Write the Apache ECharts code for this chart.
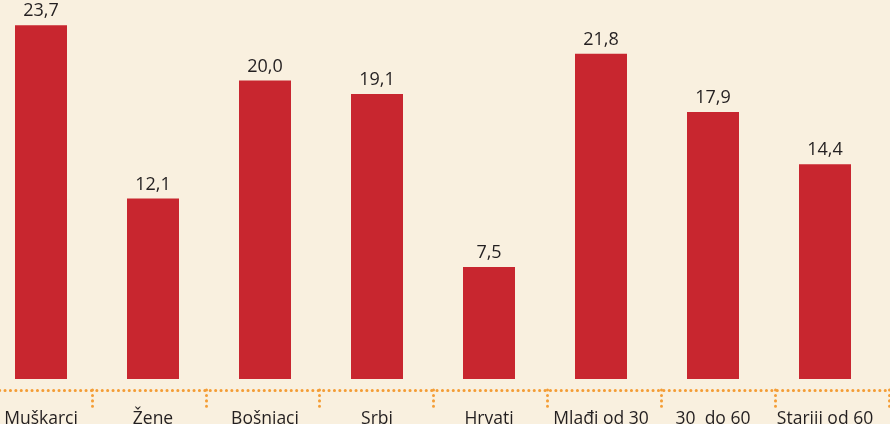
<!DOCTYPE html>
<html>
<head>
<meta charset="utf-8">
<script src="https://cdn.jsdelivr.net/npm/echarts@6/dist/echarts.min.js"></script>
<style>
  html, body { margin: 0; padding: 0; background: #f9f0df; }
  #chart { width: 890px; height: 424px; }
</style>
</head>
<body>
<div id="chart"></div>
<script>
// kategorije i vrijednosti (%)
var categories = ["Muškarci", "Žene", "Bošnjaci", "Srbi", "Hrvati", "Mlađi od 30", "30  do 60", "Stariji od 60"];
var values = [23.7, 12.1, 20.0, 19.1, 7.5, 21.8, 17.9, 14.4];

var myChart = echarts.init(document.getElementById("chart"));

var dotted = {
  color: "#f49d36",
  width: 3,
  type: [0.1, 5.3],
  cap: "round"
};

var option = {
  backgroundColor: "#f9f0df",
  animation: false,
  textStyle: { fontFamily: "Open Sans" },
  grid: [
    // stubići
    { left: -15, right: 9, top: 0, bottom: 45, outerBoundsMode: "none", containLabel: false },
    // tačkasta osa
    { left: -22, right: 1, top: 0, bottom: 34, outerBoundsMode: "none", containLabel: false }
  ],
  xAxis: [
    {
      type: "category",
      gridIndex: 0,
      data: categories,
      axisLine: { show: false },
      axisTick: { show: false },
      axisLabel: {
        interval: 0,
        margin: 31,
        color: "#231f20",
        fontSize: 17.5,
        fontFamily: "Open Sans"
      }
    },
    {
      type: "category",
      gridIndex: 1,
      data: categories,
      axisLine: { show: true, lineStyle: dotted },
      axisTick: { show: true, interval: 0, length: 18, lineStyle: dotted },
      axisLabel: { show: false }
    }
  ],
  yAxis: [
    { type: "value", gridIndex: 0, min: 0, max: 25.4, show: false },
    { type: "value", gridIndex: 1, show: false }
  ],
  series: [
    {
      type: "bar",
      xAxisIndex: 0,
      yAxisIndex: 0,
      data: values,
      barWidth: 52,
      itemStyle: { color: "#c8262f" },
      label: {
        show: true,
        position: "top",
        distance: 5,
        color: "#231f20",
        fontSize: 18,
        fontFamily: "Open Sans",
        formatter: function (p) {
          return p.value.toFixed(1).replace(".", ",");
        }
      }
    }
  ]
};

myChart.setOption(option, true);
</script>
</body>
</html>
